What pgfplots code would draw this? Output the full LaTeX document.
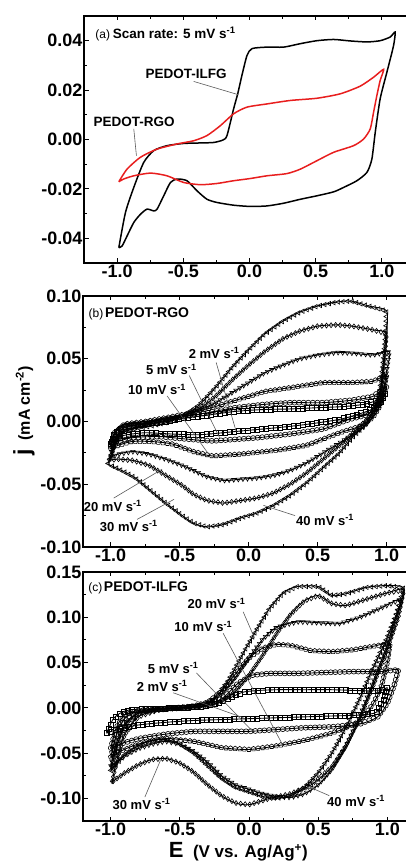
\documentclass[border=0pt]{standalone}
\usepackage{fontspec}
\setmainfont{Liberation Sans}
\usepackage{pgfplots}
\usepackage{pgfplotstable}
\pgfplotsset{compat=1.18}
\usetikzlibrary{decorations.markings}
\definecolor{cvred}{RGB}{232,30,30}
\newcommand{\lf}{\fontsize{13}{13}\selectfont\bfseries}
\tikzset{
  mk/.style 2 args={postaction={decorate,decoration={markings,
     mark=between positions 0.001 and 0.999 step 4.6pt with {\pgftransformresetnontranslations
       \pgftransformrotate{#2}\pgfplotmarksize=2.5pt\relax\pgfsetlinewidth{0.6pt}\pgfuseplotmark{#1}}}}},
  ptr/.style={draw=black!65, line width=0.6pt},
}
\pgfplotsset{
  cv/.style={
    scale only axis, anchor=south west, clip=false,
    axis line style={line width=1.3pt},
    every tick/.style={line width=1pt, black},
    tick align=inside, major tick length=4.5pt, minor tick length=3pt,
    minor x tick num=1, minor y tick num=1,
    xtick={-1,-0.5,0,0.5,1},
    scaled y ticks=false, scaled x ticks=false,
    /pgf/number format/assume math mode=true,
    ticklabel style={font=\fontsize{18}{18}\selectfont\bfseries, inner sep=1.5pt},
    xticklabel style={/pgf/number format/fixed, /pgf/number format/fixed zerofill, /pgf/number format/precision=1},
    yticklabel style={/pgf/number format/fixed, /pgf/number format/fixed zerofill, /pgf/number format/precision=2},
  },
  cvline/.style={black, line width=0.9pt, smooth, tension=0.45},
  cvmk/.style 2 args={draw=none, mk={#1}{#2}},
}
% ---------- panel (b) data
\pgfplotstableread{
x y
-1.0 -0.018
-0.97 -0.009
-0.9 -0.004
-0.75 -0.002
-0.6 0.000
-0.45 0.003
-0.30 0.005
-0.1 0.008
0.1 0.0095
0.3 0.010
0.5 0.011
0.7 0.012
0.85 0.014
0.95 0.018
0.99 0.023
0.96 0.016
0.90 0.010
0.80 0.006
0.66 0.0017
0.42 -0.0023
0.20 -0.005
-0.06 -0.0076
-0.35 -0.0105
-0.55 -0.010
-0.75 -0.009
-0.90 -0.011
-0.98 -0.015
-1.0 -0.018
}\bA
\pgfplotstableread{
x y
-1.0 -0.020
-0.97 -0.009
-0.9 -0.003
-0.75 -0.001
-0.6 0.002
-0.45 0.004
-0.3 0.007
-0.1 0.011
0.1 0.0135
0.3 0.015
0.54 0.015
0.75 0.017
0.9 0.020
1.0 0.028
0.97 0.018
0.92 0.010
0.85 0.005
0.73 0.0017
0.54 -0.006
0.30 -0.010
0.06 -0.013
-0.26 -0.0155
-0.45 -0.014
-0.65 -0.012
-0.85 -0.013
-0.97 -0.017
-1.0 -0.020
}\bB
\pgfplotstableread{
x y
-1.0 -0.022
-0.97 -0.009
-0.9 -0.002
-0.75 0.000
-0.6 0.003
-0.45 0.006
-0.3 0.010
-0.15 0.015
0.0 0.020
0.124 0.024
0.366 0.028
0.54 0.031
0.75 0.031
0.9 0.032
1.0 0.037
0.98 0.025
0.95 0.012
0.90 0.003
0.80 -0.004
0.66 -0.009
0.54 -0.014
0.42 -0.019
0.20 -0.023
-0.06 -0.026
-0.26 -0.0275
-0.40 -0.024
-0.55 -0.018
-0.70 -0.016
-0.85 -0.016
-0.97 -0.020
-1.0 -0.022
}\bC
\pgfplotstableread{
x y
-1.0 -0.029
-0.96 -0.013
-0.9 -0.005
-0.75 -0.002
-0.6 0.002
-0.48 0.005
-0.36 0.009
-0.24 0.015
-0.12 0.023
0.0 0.031
0.12 0.039
0.25 0.045
0.37 0.050
0.50 0.053
0.64 0.055
0.75 0.0545
0.90 0.053
1.02 0.0557
1.0 0.04
0.97 0.022
0.92 0.008
0.85 -0.003
0.76 -0.010
0.66 -0.017
0.54 -0.025
0.42 -0.033
0.30 -0.039
0.18 -0.043
0.06 -0.045
-0.06 -0.046
-0.18 -0.047
-0.30 -0.044
-0.40 -0.039
-0.48 -0.035
-0.60 -0.030
-0.72 -0.026
-0.84 -0.024
-0.95 -0.026
-1.0 -0.029
}\bD
\pgfplotstableread{
x y
-1.01 -0.031
-0.96 -0.015
-0.9 -0.007
-0.75 -0.003
-0.6 0.001
-0.48 0.004
-0.36 0.010
-0.24 0.020
-0.12 0.033
0.0 0.045
0.12 0.056
0.25 0.066
0.37 0.072
0.50 0.076
0.64 0.077
0.75 0.076
0.90 0.073
1.0 0.070
0.985 0.05
0.96 0.028
0.92 0.012
0.86 0.002
0.76 -0.009
0.66 -0.019
0.54 -0.030
0.42 -0.041
0.30 -0.050
0.18 -0.057
0.06 -0.061
-0.06 -0.063
-0.18 -0.065
-0.30 -0.063
-0.40 -0.058
-0.48 -0.051
-0.60 -0.043
-0.72 -0.035
-0.84 -0.031
-0.95 -0.030
-1.01 -0.031
}\bE
\pgfplotstableread{
x y
-1.02 -0.034
-0.97 -0.019
-0.92 -0.010
-0.84 -0.006
-0.72 -0.004
-0.60 -0.001
-0.48 0.004
-0.36 0.013
-0.24 0.027
-0.12 0.043
0.0 0.057
0.12 0.070
0.25 0.080
0.37 0.087
0.50 0.092
0.63 0.095
0.74 0.096
0.87 0.092
1.00 0.088
0.995 0.07
0.975 0.045
0.95 0.022
0.90 0.007
0.85 -0.002
0.75 -0.013
0.66 -0.025
0.54 -0.037
0.42 -0.049
0.30 -0.059
0.18 -0.067
0.06 -0.073
-0.06 -0.077
-0.18 -0.082
-0.30 -0.084
-0.40 -0.081
-0.48 -0.075
-0.60 -0.065
-0.72 -0.054
-0.82 -0.045
-0.92 -0.039
-1.00 -0.035
-1.02 -0.034
}\bF
% ---------- panel (c) data
\pgfplotstableread{
x y
-1.03 -0.028
-0.98 -0.012
-0.92 -0.005
-0.85 -0.002
-0.7 -0.001
-0.5 0.000
-0.35 0.001
-0.25 0.004
-0.15 0.010
-0.05 0.017
0.05 0.019
0.2 0.020
0.4 0.020
0.6 0.020
0.8 0.019
0.95 0.019
1.0 0.022
0.97 0.008
0.92 -0.005
0.8 -0.008
0.6 -0.009
0.4 -0.010
0.2 -0.011
0.0 -0.012
-0.2 -0.013
-0.4 -0.014
-0.6 -0.016
-0.8 -0.019
-0.95 -0.024
-1.03 -0.028
}\cA
\pgfplotstableread{
x y
-1.0 -0.045
-0.96 -0.022
-0.9 -0.008
-0.8 -0.003
-0.6 -0.001
-0.4 0.001
-0.28 0.004
-0.18 0.012
-0.08 0.027
0.02 0.036
0.15 0.038
0.35 0.038
0.55 0.039
0.75 0.040
0.95 0.040
1.08 0.042
1.05 0.025
1.0 0.005
0.93 -0.01
0.8 -0.018
0.6 -0.021
0.4 -0.022
0.2 -0.024
0.0 -0.026
-0.2 -0.026
-0.4 -0.026
-0.6 -0.029
-0.8 -0.034
-0.93 -0.040
-1.0 -0.045
}\cB
\pgfplotstableread{
x y
-1.0 -0.055
-0.96 -0.03
-0.9 -0.012
-0.8 -0.004
-0.6 -0.001
-0.4 0.002
-0.3 0.006
-0.2 0.018
-0.1 0.037
0.0 0.055
0.1 0.066
0.2 0.070
0.3 0.069
0.45 0.063
0.6 0.062
0.75 0.064
0.9 0.068
1.02 0.071
1.0 0.05
0.96 0.025
0.9 0.005
0.8 -0.015
0.6 -0.028
0.4 -0.036
0.2 -0.042
0.0 -0.046
-0.2 -0.044
-0.4 -0.037
-0.6 -0.034
-0.8 -0.040
-0.93 -0.048
-1.0 -0.055
}\cC
\pgfplotstableread{
x y
-1.0 -0.065
-0.96 -0.04
-0.9 -0.018
-0.8 -0.006
-0.6 -0.001
-0.4 0.002
-0.3 0.005
-0.2 0.015
-0.1 0.033
0.0 0.055
0.1 0.076
0.2 0.089
0.35 0.095
0.5 0.094
0.65 0.093
0.8 0.100
0.95 0.110
1.1 0.120
1.05 0.095
1.0 0.070
0.9 0.030
0.8 -0.010
0.7 -0.043
0.6 -0.068
0.5 -0.085
0.4 -0.095
0.3 -0.099
0.2 -0.098
0.1 -0.095
0.0 -0.090
-0.1 -0.085
-0.2 -0.075
-0.3 -0.060
-0.4 -0.048
-0.5 -0.040
-0.6 -0.037
-0.7 -0.040
-0.8 -0.045
-0.9 -0.053
-1.0 -0.065
}\cD
\pgfplotstableread{
x y
-0.99 -0.082
-0.95 -0.055
-0.9 -0.03
-0.8 -0.010
-0.65 -0.002
-0.45 0.000
-0.3 0.002
-0.2 0.007
-0.1 0.018
0.0 0.036
0.1 0.058
0.2 0.082
0.3 0.103
0.4 0.118
0.5 0.124
0.6 0.115
0.7 0.113
0.85 0.120
1.0 0.127
1.12 0.130
1.08 0.10
1.0 0.065
0.9 0.025
0.8 -0.012
0.7 -0.042
0.6 -0.065
0.45 -0.085
0.3 -0.095
0.15 -0.100
0.0 -0.107
-0.1 -0.105
-0.2 -0.097
-0.3 -0.085
-0.4 -0.071
-0.5 -0.061
-0.6 -0.056
-0.7 -0.057
-0.8 -0.063
-0.9 -0.072
-0.99 -0.082
}\cE
\pgfplotstableread{
x y
-1.0 -0.07
-0.96 -0.045
-0.9 -0.02
-0.8 -0.006
-0.65 -0.001
-0.45 0.001
-0.33 0.004
-0.25 0.010
-0.15 0.030
-0.05 0.058
0.05 0.085
0.15 0.110
0.25 0.127
0.35 0.134
0.5 0.134
0.6 0.124
0.7 0.126
0.85 0.133
1.0 0.135
1.12 0.132
1.07 0.105
1.0 0.078
0.9 0.045
0.8 0.010
0.7 -0.022
0.6 -0.050
0.5 -0.072
0.4 -0.088
0.3 -0.097
0.2 -0.100
0.1 -0.098
0.0 -0.093
-0.1 -0.088
-0.2 -0.078
-0.3 -0.064
-0.4 -0.050
-0.5 -0.040
-0.6 -0.035
-0.7 -0.036
-0.8 -0.042
-0.9 -0.052
-1.0 -0.07
}\cF
\begin{document}
\begin{tikzpicture}
% ---------------- panel (a)
\begin{axis}[cv, at={(84pt,605pt)}, width=331pt, height=247pt,
  xmin=-1.25, xmax=1.25, ymin=-0.05, ymax=0.05, ytick={-0.04,-0.02,0,0.02,0.04}]
\addplot[black, line width=1.5pt, smooth, tension=0.4] coordinates {
(-0.987,-0.0438) (-0.937,-0.0296) (-0.874,-0.0194) (-0.799,-0.0093) (-0.723,-0.0045) (-0.623,-0.0025) (-0.497,-0.0016) (-0.371,-0.0014) (-0.27,-0.0012) (-0.20,-0.0002) (-0.17,0.0016) (-0.12,0.0124) (-0.089,0.0185) (-0.057,0.026) (-0.019,0.034) (0.019,0.0368) (0.132,0.0374) (0.258,0.0374) (0.384,0.0388) (0.509,0.040) (0.635,0.0405) (0.761,0.0399) (0.887,0.0395) (0.987,0.040) (1.063,0.0415) (1.10,0.0435) (1.088,0.038) (1.038,0.0273) (0.987,0.0165) (0.95,0.003) (0.924,-0.008) (0.887,-0.0133) (0.811,-0.0167) (0.711,-0.0194) (0.635,-0.0212) (0.509,-0.0228) (0.384,-0.0242) (0.258,-0.0258) (0.132,-0.0269) (0.006,-0.0271) (-0.12,-0.0266) (-0.245,-0.0255) (-0.321,-0.0242) (-0.396,-0.0208) (-0.472,-0.0167) (-0.547,-0.016) (-0.597,-0.0174) (-0.648,-0.0228) (-0.698,-0.0282) (-0.723,-0.0289) (-0.774,-0.0282) (-0.824,-0.0303) (-0.874,-0.0336) (-0.925,-0.0391) (-0.962,-0.0431) (-0.987,-0.0438)};
\addplot[cvred, line width=1.5pt, smooth, tension=0.4] coordinates {
(-0.987,-0.0171) (-0.925,-0.012) (-0.824,-0.0072) (-0.698,-0.0039) (-0.547,-0.0018) (-0.421,-0.0005) (-0.321,0.0016) (-0.22,0.0056) (-0.12,0.0104) (-0.019,0.0131) (0.132,0.0144) (0.308,0.0158) (0.509,0.0167) (0.686,0.0185) (0.836,0.0216) (0.937,0.0252) (1.013,0.0284) (0.987,0.0239) (0.962,0.0178) (0.937,0.011) (0.912,0.0043) (0.862,0.0002) (0.786,-0.0025) (0.635,-0.0052) (0.509,-0.0086) (0.384,-0.012) (0.283,-0.0138) (0.132,-0.0147) (0.006,-0.0158) (-0.12,-0.0167) (-0.245,-0.0178) (-0.371,-0.0183) (-0.497,-0.0174) (-0.623,-0.0147) (-0.748,-0.0136) (-0.874,-0.0147) (-0.95,-0.016) (-0.987,-0.0171)};
\node[anchor=west, inner sep=0pt] at (axis cs:-1.165,0.0428) {{\fontsize{12}{12}\selectfont (a)} {\fontsize{13.5}{13.5}\selectfont\bfseries Scan rate: 5 mV s\textsuperscript{-1}}};
\node[font=\fontsize{13.5}{13.5}\selectfont\bfseries, inner sep=0pt] at (axis cs:-0.479,0.0266) {PEDOT-ILFG};
\draw[ptr] (axis cs:-0.421,0.0235) -- (axis cs:-0.082,0.0181);
\node[font=\fontsize{13.5}{13.5}\selectfont\bfseries, inner sep=0pt] at (axis cs:-0.872,0.0072) {PEDOT-RGO};
\draw[ptr] (axis cs:-0.874,0.0043) -- (axis cs:-0.854,-0.0066);
\end{axis}
% ---------------- panel (b)
\begin{axis}[cv, at={(83pt,321pt)}, width=331.2pt, height=251pt,
  xmin=-1.2, xmax=1.2, ymin=-0.1, ymax=0.1, ytick={-0.1,-0.05,0,0.05,0.1},
  ylabel={{\fontsize{23}{23}\selectfont j}\ \ (mA cm\textsuperscript{-2})},
  ylabel style={font=\fontsize{16}{16}\selectfont\bfseries, at={(axis description cs:-0.178,0.542)}, anchor=center}]
\addplot[cvline] table {\bA};
\addplot[cvline] table {\bB};
\addplot[cvline] table {\bC};
\addplot[cvline] table {\bD};
\addplot[cvline] table {\bE};
\addplot[cvline] table {\bF};
\addplot[cvmk={square}{0}] table {\bA};
\addplot[cvmk={o}{0}] table {\bB};
\addplot[cvmk={pentagon}{0}] table {\bC};
\addplot[cvmk={triangle}{180}] table {\bD};
\addplot[cvmk={diamond}{0}] table {\bE};
\addplot[cvmk={triangle}{90}] table {\bF};
\node[anchor=west, inner sep=0pt] at (axis cs:-1.16,0.0854) {{\fontsize{12}{12}\selectfont (b)}\,{\fontsize{14}{14}\selectfont\bfseries PEDOT-RGO}};
\node[font=\lf, inner sep=0pt] at (axis cs:-0.25,0.0545) {2 mV s\textsuperscript{-1}};
\draw[ptr] (axis cs:-0.235,0.047) -- (axis cs:-0.09,-0.008);
\node[font=\lf, inner sep=0pt] at (axis cs:-0.56,0.0415) {5 mV s\textsuperscript{-1}};
\draw[ptr] (axis cs:-0.43,0.0366) -- (axis cs:-0.21,-0.013);
\node[font=\lf, inner sep=0pt] at (axis cs:-0.663,0.0257) {10 mV s\textsuperscript{-1}};
\draw[ptr] (axis cs:-0.59,0.0203) -- (axis cs:-0.29,-0.026);
\node[font=\lf, inner sep=0pt] at (axis cs:-0.984,-0.0673) {20 mV s\textsuperscript{-1}};
\draw[ptr] (axis cs:-0.977,-0.061) -- (axis cs:-0.627,-0.038);
\node[font=\lf, inner sep=0pt] at (axis cs:-0.868,-0.0833) {30 mV s\textsuperscript{-1}};
\draw[ptr] (axis cs:-0.808,-0.078) -- (axis cs:-0.54,-0.062);
\node[font=\lf, inner sep=0pt] at (axis cs:0.554,-0.0785) {40 mV s\textsuperscript{-1}};
\draw[ptr] (axis cs:0.337,-0.075) -- (axis cs:0.107,-0.0668);
\end{axis}
% ---------------- panel (c)
\begin{axis}[cv, at={(83pt,47pt)}, width=332pt, height=249pt,
  xmin=-1.2, xmax=1.2, ymin=-0.125, ymax=0.15, ytick={-0.1,-0.05,0,0.05,0.1,0.15},
  xlabel={{\fontsize{22}{22}\selectfont E}\ \ (V vs. Ag/Ag\textsuperscript{+})},
  xlabel style={font=\fontsize{17}{17}\selectfont\bfseries, at={(axis description cs:0.468,-0.1245)}, anchor=center}]
\addplot[cvline] table {\cA};
\addplot[cvline] table {\cB};
\addplot[cvline] table {\cC};
\addplot[cvline] table {\cD};
\addplot[cvline] table {\cE};
\addplot[cvline] table {\cF};
\addplot[cvmk={square}{0}] table {\cA};
\addplot[cvmk={o}{0}] table {\cB};
\addplot[cvmk={pentagon}{0}] table {\cC};
\addplot[cvmk={triangle}{180}] table {\cD};
\addplot[cvmk={diamond}{0}] table {\cE};
\addplot[cvmk={triangle}{90}] table {\cF};
\node[anchor=west, inner sep=0pt] at (axis cs:-1.163,0.1325) {{\fontsize{12}{12}\selectfont (c)}\,{\fontsize{14}{14}\selectfont\bfseries PEDOT-ILFG}};
\node[font=\lf, inner sep=0pt] at (axis cs:-0.235,0.1153) {20 mV s\textsuperscript{-1}};
\draw[ptr] (axis cs:-0.042,0.106) -- (axis cs:0.04,0.077);
\node[font=\lf, inner sep=0pt] at (axis cs:-0.33,0.0897) {10 mV s\textsuperscript{-1}};
\draw[ptr] (axis cs:-0.187,0.0824) -- (axis cs:0.24,-0.04);
\node[font=\lf, inner sep=0pt] at (axis cs:-0.548,0.044) {5 mV s\textsuperscript{-1}};
\draw[ptr] (axis cs:-0.38,0.0385) -- (axis cs:0.02,-0.025);
\node[font=\lf, inner sep=0pt] at (axis cs:-0.628,0.024) {2 mV s\textsuperscript{-1}};
\draw[ptr] (axis cs:-0.548,0.0166) -- (axis cs:-0.04,-0.011);
\node[font=\lf, inner sep=0pt] at (axis cs:-0.777,-0.106) {30 mV s\textsuperscript{-1}};
\draw[ptr] (axis cs:-0.753,-0.0986) -- (axis cs:-0.64,-0.058);
\node[font=\lf, inner sep=0pt] at (axis cs:0.774,-0.103) {40 mV s\textsuperscript{-1}};
\draw[ptr] (axis cs:0.58,-0.097) -- (axis cs:0.43,-0.087);
\end{axis}
\pgfresetboundingbox
\path[use as bounding box] (0,0) rectangle (406pt,868pt);
\end{tikzpicture}
\end{document}
